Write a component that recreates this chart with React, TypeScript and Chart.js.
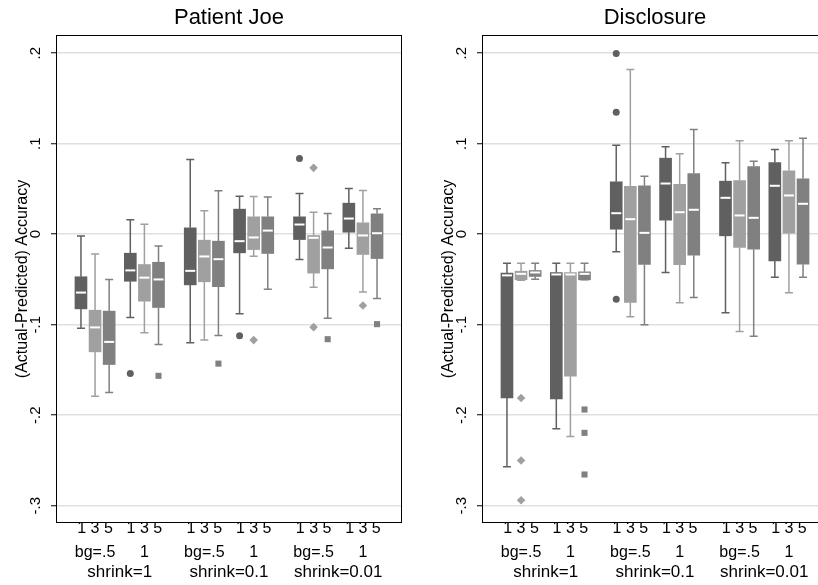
import React, { useEffect, useRef } from "react";
import { Chart, registerables } from "chart.js";

Chart.register(...registerables);

const FONT = '"Liberation Sans", Arial, Helvetica, sans-serif';

// ---------- text ----------
const panelTitles = ["Patient Joe", "Disclosure"];
const yAxisTitle = "(Actual-Predicted) Accuracy";
const yTickValues = [-0.3, -0.2, -0.1, 0, 0.1, 0.2];
const yTickLabels = ["-.3", "-.2", "-.1", "0", ".1", ".2"];
const seriesNames = ["1", "3", "5"];
const seriesRowLabels = ["1 3 5", "1 3 5", "1 3 5", "1 3 5", "1 3 5", "1 3 5"];
const bgLabels = ["bg=.5", "1", "bg=.5", "1", "bg=.5", "1"];
const shrinkLabels = ["shrink=1", "shrink=0.1", "shrink=0.01"];

// ---------- data: 18 boxes per panel, ordered group by group (series 1, 3, 5) ----------
const joeLow = [-0.104, -0.179, -0.175, -0.092, -0.109, -0.122, -0.12, -0.117, -0.112, -0.088, -0.0243, -0.0607, -0.028, -0.0586, -0.0928, -0.0155, -0.064, -0.071];
const joeQ1 = [-0.0825, -0.13, -0.144, -0.052, -0.074, -0.081, -0.056, -0.0526, -0.058, -0.0206, -0.017, -0.0213, -0.0059, -0.043, -0.0383, 0.0022, -0.0224, -0.0269];
const joeMed = [-0.0645, -0.103, -0.119, -0.04, -0.048, -0.05, -0.0405, -0.0246, -0.0276, -0.0077, -0.0036, 0.004, 0.0107, -0.004, -0.0147, 0.0173, -0.0014, 0.0011];
const joeQ3 = [-0.047, -0.084, -0.085, -0.021, -0.0335, -0.031, 0.007, -0.0066, -0.0077, 0.0277, 0.0192, 0.0192, 0.0192, -0.0014, 0.0037, 0.0343, 0.0126, 0.0225];
const joeHigh = [-0.002, -0.022, -0.05, 0.016, 0.011, -0.013, 0.0825, 0.026, 0.048, 0.042, 0.0417, 0.041, 0.045, 0.0243, 0.0229, 0.0505, 0.0483, 0.028];
// [group, series, value]
const joeOutliers = [
  [1, 0, -0.154], [3, 0, -0.1123], [4, 0, 0.0836],
  [3, 1, -0.117], [4, 1, 0.0733], [4, 1, -0.1027], [5, 1, -0.0788],
  [1, 2, -0.1565], [2, 2, -0.143], [4, 2, -0.116], [5, 2, -0.0994],
];

const disLow = [-0.257, -0.051, -0.0497, -0.215, -0.2235, -0.0504, -0.0195, -0.0913, -0.1001, -0.0423, -0.0758, -0.07, -0.0869, -0.1075, -0.1127, -0.0475, -0.0648, -0.0475];
const disQ1 = [-0.181, -0.0504, -0.0467, -0.182, -0.157, -0.0504, 0.0055, -0.0755, -0.0335, 0.0155, -0.0338, -0.0232, -0.0018, -0.0147, -0.0166, -0.0294, 0.0011, -0.0331];
const disMed = [-0.0455, -0.0438, -0.0423, -0.0445, -0.0445, -0.0438, 0.0232, 0.0166, 0.0015, 0.056, 0.0243, 0.027, 0.0402, 0.0207, 0.0181, 0.0535, 0.0428, 0.0336];
const disQ3 = [-0.043, -0.0409, -0.0401, -0.0423, -0.0423, -0.0416, 0.0579, 0.053, 0.0535, 0.084, 0.055, 0.067, 0.0586, 0.0593, 0.0748, 0.0792, 0.07, 0.0612];
const disHigh = [-0.032, -0.032, -0.032, -0.032, -0.032, -0.032, 0.0984, 0.182, 0.064, 0.0966, 0.0888, 0.1157, 0.0789, 0.1032, 0.0807, 0.0936, 0.1032, 0.106];
const disOutliers = [
  [2, 0, 0.1997], [2, 0, 0.1348], [2, 0, -0.0718],
  [0, 1, -0.181], [0, 1, -0.25], [0, 1, -0.294],
  [1, 2, -0.1937], [1, 2, -0.2195], [1, 2, -0.2655],
];

// ---------- styling / layout ----------
const seriesColors = ["#606060", "#a0a0a0", "#808080"];
const seriesMarkers = ["circle", "rectRot", "rect"];
const markerRadius = [3.5, 4.3, 4.3];
const BOX_STEP = 1;
const GROUP_STEP = 3.5;
const SUPER_STEP = 7.75;
const X_MIN = -1.7;
const X_MAX = 22.7;
const Y_MIN = -0.318;
const Y_MAX = 0.219;
const PANEL_W = 426;
const PANEL_H = 585;

const boxPos = (g: number, s: number) =>
  Math.floor(g / 2) * SUPER_STEP + (g % 2) * GROUP_STEP + s * BOX_STEP;
const groupCenters = [0, 1, 2, 3, 4, 5].map((g) => boxPos(g, 1));
const superCenters = [0, 1, 2].map((k) => k * SUPER_STEP + (GROUP_STEP + 2 * BOX_STEP) / 2);

const boxPlugin = {
  id: "boxWhiskers",
  beforeDatasetsDraw(chart: any) {
    const ctx = chart.ctx;
    const y = chart.scales.y;
    chart.data.datasets.forEach((ds: any, di: number) => {
      if (!ds.boxLow) return;
      const meta = chart.getDatasetMeta(di);
      ctx.save();
      ctx.strokeStyle = ds.backgroundColor;
      ctx.lineWidth = 1.5;
      meta.data.forEach((el: any, i: number) => {
        const x = el.x;
        const yl = y.getPixelForValue(ds.boxLow[i]);
        const yh = y.getPixelForValue(ds.boxHigh[i]);
        const y1 = y.getPixelForValue(ds.data[i].y[0]);
        const y3 = y.getPixelForValue(ds.data[i].y[1]);
        ctx.beginPath();
        ctx.moveTo(x, y3);
        ctx.lineTo(x, yh);
        ctx.moveTo(x, y1);
        ctx.lineTo(x, yl);
        ctx.moveTo(x - 4, yh);
        ctx.lineTo(x + 4, yh);
        ctx.moveTo(x - 4, yl);
        ctx.lineTo(x + 4, yl);
        ctx.stroke();
      });
      ctx.restore();
    });
  },
  afterDatasetsDraw(chart: any) {
    const ctx = chart.ctx;
    const y = chart.scales.y;
    chart.data.datasets.forEach((ds: any, di: number) => {
      if (!ds.boxMed) return;
      const meta = chart.getDatasetMeta(di);
      ctx.save();
      ctx.strokeStyle = "#ffffff";
      ctx.lineWidth = 2;
      meta.data.forEach((el: any, i: number) => {
        const ym = y.getPixelForValue(ds.boxMed[i]);
        const w = el.width;
        ctx.beginPath();
        ctx.moveTo(el.x - w / 2 + 1, ym);
        ctx.lineTo(el.x + w / 2 - 1, ym);
        ctx.stroke();
      });
      ctx.restore();
    });
  },
  afterDraw(chart: any) {
    const { ctx, chartArea } = chart;
    ctx.save();
    ctx.strokeStyle = "#000000";
    ctx.lineWidth = 1;
    ctx.strokeRect(
      chartArea.left - 0.5,
      chartArea.top - 0.5,
      chartArea.right - chartArea.left + 1,
      chartArea.bottom - chartArea.top + 1
    );
    ctx.restore();
  },
};

function buildConfig(p: number): any {
  const low = p === 0 ? joeLow : disLow;
  const q1 = p === 0 ? joeQ1 : disQ1;
  const med = p === 0 ? joeMed : disMed;
  const q3 = p === 0 ? joeQ3 : disQ3;
  const high = p === 0 ? joeHigh : disHigh;
  const outs = p === 0 ? joeOutliers : disOutliers;
  const groups = [0, 1, 2, 3, 4, 5];
  const datasets: any[] = [];
  for (let s = 0; s < 3; s++) {
    datasets.push({
      type: "bar",
      label: "series " + seriesNames[s],
      data: groups.map((g) => ({ x: boxPos(g, s), y: [q1[g * 3 + s], q3[g * 3 + s]] })),
      boxLow: groups.map((g) => low[g * 3 + s]),
      boxMed: groups.map((g) => med[g * 3 + s]),
      boxHigh: groups.map((g) => high[g * 3 + s]),
      backgroundColor: seriesColors[s],
      borderWidth: 0,
      grouped: false,
      barPercentage: 1,
      categoryPercentage: 1,
      maxBarThickness: 12,
    });
  }
  for (let s = 0; s < 3; s++) {
    datasets.push({
      type: "scatter",
      label: "outliers " + seriesNames[s],
      data: outs.filter((o) => o[1] === s).map((o) => ({ x: boxPos(o[0], s), y: o[2] })),
      pointStyle: seriesMarkers[s],
      pointRadius: markerRadius[s],
      backgroundColor: seriesColors[s],
      borderColor: seriesColors[s],
      borderWidth: 0,
      showLine: false,
    });
  }
  return {
    type: "bar",
    data: { datasets },
    plugins: [boxPlugin],
    options: {
      responsive: false,
      animation: false,
      events: [],
      layout: { padding: { left: 0, top: 0, right: 25, bottom: 0 } },
      plugins: {
        legend: { display: false },
        tooltip: { enabled: false },
        title: {
          display: true,
          text: panelTitles[p],
          fullSize: false,
          color: "#000",
          font: { family: FONT, size: 22, weight: "normal", lineHeight: 1.2 },
          padding: { top: 5.2, bottom: 4.4 },
        },
      },
      scales: {
        x: {
          type: "linear",
          min: X_MIN,
          max: X_MAX,
          offset: false,
          position: "bottom",
          weight: 0,
          grid: { display: false, drawTicks: false },
          border: { display: false },
          afterBuildTicks: (sc: any) => {
            sc.ticks = groupCenters.map((v) => ({ value: v }));
          },
          afterFit: (sc: any) => {
            sc.height = 40;
          },
          ticks: {
            autoSkip: false,
            minRotation: 0,
            maxRotation: 0,
            padding: -5,
            color: "#000",
            font: { family: FONT, size: 16, lineHeight: 1.475 },
            callback: (_v: any, i: number) => [seriesRowLabels[i], bgLabels[i]],
          },
        },
        x2: {
          type: "linear",
          axis: "x",
          min: X_MIN,
          max: X_MAX,
          offset: false,
          position: "bottom",
          weight: 1,
          grid: { display: false, drawTicks: false },
          border: { display: false },
          afterBuildTicks: (sc: any) => {
            sc.ticks = superCenters.map((v) => ({ value: v }));
          },
          afterFit: (sc: any) => {
            sc.height = 23;
          },
          ticks: {
            autoSkip: false,
            minRotation: 0,
            maxRotation: 0,
            padding: 0,
            color: "#000",
            font: { family: FONT, size: 17, lineHeight: 20 / 17 },
            callback: (_v: any, i: number) => shrinkLabels[i],
          },
        },
        y: {
          type: "linear",
          min: Y_MIN,
          max: Y_MAX,
          position: "left",
          afterBuildTicks: (sc: any) => {
            sc.ticks = yTickValues.map((v) => ({ value: v }));
          },
          afterFit: (sc: any) => {
            sc.width = 57;
          },
          ticks: {
            autoSkip: false,
            minRotation: 90,
            maxRotation: 90,
            crossAlign: "center",
            padding: 6,
            color: "#000",
            font: { family: FONT, size: 15 },
            callback: (_v: any, i: number) => yTickLabels[i],
          },
          grid: {
            color: "#dfdfdf",
            lineWidth: 1.5,
            drawTicks: true,
            tickLength: 6,
            tickColor: "#000",
            tickWidth: 1,
          },
          border: { display: false },
          title: {
            display: true,
            text: yAxisTitle,
            color: "#000",
            font: { family: FONT, size: 16, lineHeight: 1.2 },
            padding: { top: 13.4, bottom: 0 },
          },
        },
      },
    },
  };
}

function Panel({ index }: { index: number }) {
  const ref = useRef<HTMLCanvasElement | null>(null);
  useEffect(() => {
    if (!ref.current) return;
    const chart = new Chart(ref.current, buildConfig(index));
    return () => chart.destroy();
  }, [index]);
  return (
    <canvas
      ref={ref}
      width={PANEL_W}
      height={PANEL_H}
      style={{ position: "absolute", left: index * PANEL_W, top: 0, width: PANEL_W, height: PANEL_H }}
    />
  );
}

export default function App() {
  Chart.defaults.font.family = FONT;
  return (
    <div
      style={{
        position: "absolute",
        left: 0,
        top: 0,
        width: 818,
        height: 585,
        overflow: "hidden",
        background: "#ffffff",
      }}
    >
      <Panel index={0} />
      <Panel index={1} />
    </div>
  );
}
